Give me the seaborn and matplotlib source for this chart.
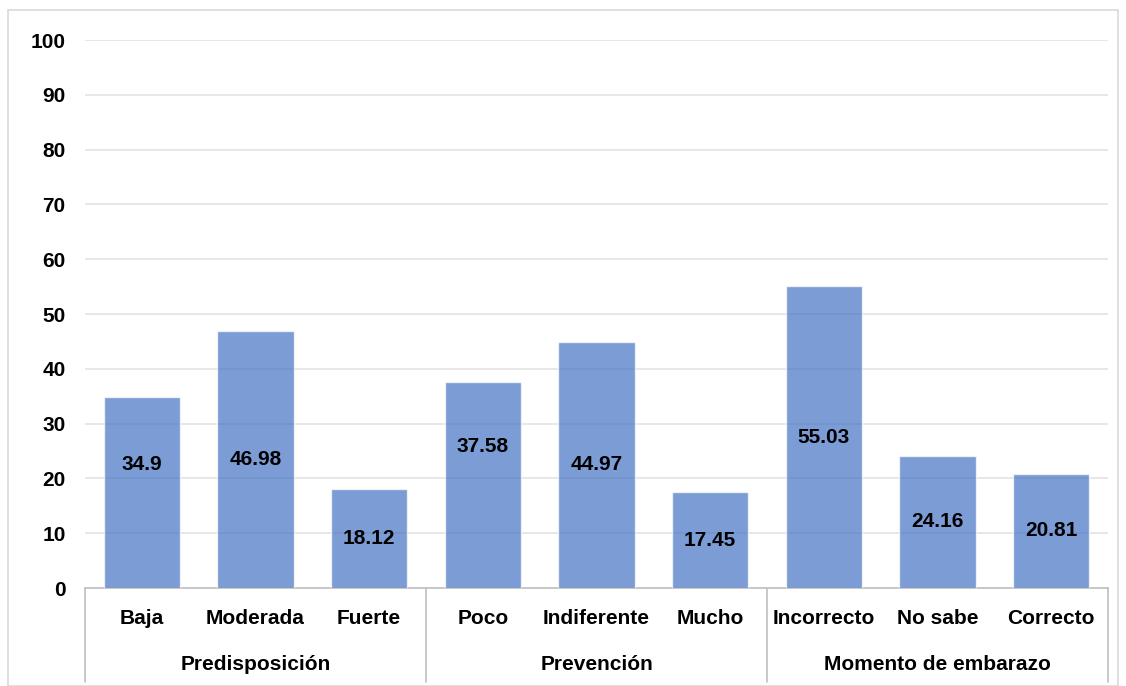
import matplotlib
matplotlib.use("Agg")
import matplotlib.pyplot as plt
import matplotlib.transforms as mtransforms
from matplotlib.patches import Rectangle
import pandas as pd
import seaborn as sns

groups = ["Predisposición", "Prevención", "Momento de embarazo"]
categories = ["Baja", "Moderada", "Fuerte",
              "Poco", "Indiferente", "Mucho",
              "Incorrecto", "No sabe", "Correcto"]
group_of = ["Predisposición"] * 3 + ["Prevención"] * 3 + ["Momento de embarazo"] * 3
values = [34.9, 46.98, 18.12, 37.58, 44.97, 17.45, 55.03, 24.16, 20.81]
value_labels = ["34.9", "46.98", "18.12", "37.58", "44.97", "17.45", "55.03", "24.16", "20.81"]
yticks = list(range(0, 101, 10))

# labels that were nudged up in the original
label_nudge = {"Baja": 5, "Poco": 7}

df = pd.DataFrame({"cat": categories, "grp": group_of, "val": values})

sns.set_style("white")
plt.rcParams["font.family"] = ["Liberation Sans", "DejaVu Sans"]
plt.rcParams["text.color"] = "black"
plt.rcParams["ytick.color"] = "black"
FW = "bold"
FS = 15

W, H = 1126, 686
fig = plt.figure(figsize=(W / 100, H / 100), dpi=100)
fig.patches.append(Rectangle((8 / W, 0), 1110 / W, 676 / H, transform=fig.transFigure,
                             fill=False, edgecolor="#d9d9d9", linewidth=1.2))

ax = fig.add_axes([85 / W, (H - 588) / H, (1108 - 85) / W, 548 / H])
sns.barplot(data=df, x="cat", y="val", order=categories, color="#4472C4",
            saturation=1, alpha=0.7, width=0.67, ax=ax, zorder=3)

ax.set_ylim(0, 100)
ax.set_xlim(-0.5, len(categories) - 0.5)
ax.set_yticks(yticks)
ax.set_yticklabels([str(t) for t in yticks], fontsize=FS, fontweight=FW, color="black")
ax.yaxis.grid(True, color="#e3e3e3", linewidth=1.2, zorder=0)
ax.set_axisbelow(True)
ax.tick_params(axis="y", length=0, pad=14)
ax.tick_params(axis="x", length=0)
ax.set_xticklabels([])
ax.set_xlabel("")
ax.set_ylabel("")
for s in ["top", "right", "left"]:
    ax.spines[s].set_visible(False)
ax.spines["bottom"].set_color("#bfbfbf")
ax.spines["bottom"].set_linewidth(1.2)

for i, (c, v, lab) in enumerate(zip(categories, values, value_labels)):
    ax.text(i, v / 2 + label_nudge.get(c, 0), lab, ha="center", va="center",
            fontsize=FS, fontweight=FW, color="black", zorder=5)

trans = mtransforms.blended_transform_factory(ax.transData, fig.transFigure)
for i, c in enumerate(categories):
    ax.text(i, (H - 618) / H, c, transform=trans, ha="center", va="center",
            fontsize=FS, fontweight=FW, color="black", clip_on=False)

for g in groups:
    idx = [i for i, gg in enumerate(group_of) if gg == g]
    mid = (idx[0] + idx[-1]) / 2
    ax.text(mid, (H - 664) / H, g, transform=trans, ha="center", va="center",
            fontsize=FS, fontweight=FW, color="black", clip_on=False)

for x in [-0.5, 2.5, 5.5, 8.5]:
    ax.plot([x, x], [(H - 588) / H, (H - 682) / H], transform=trans,
            color="#bfbfbf", linewidth=1.2, clip_on=False)

fig.savefig("out.png", dpi=100)
